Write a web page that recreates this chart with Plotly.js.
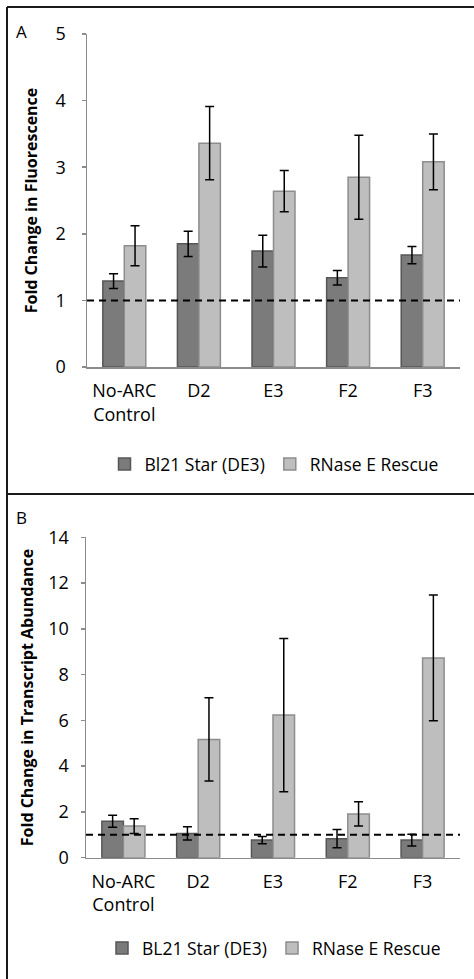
<!DOCTYPE html>
<html>
<head>
<meta charset="utf-8">
<script src="https://cdn.plot.ly/plotly-3.0.1.min.js"></script>
<style>html,body{margin:0;padding:0;background:#fff;}#chart{width:474px;height:979px;}</style>
</head>
<body>
<div id="chart"></div>
<script>
// Categories (tick labels)
const categories = ["No-ARC<br>Control", "D2", "E3", "F2", "F3"];

// Panel A: Fold change in fluorescence
const fluorBL21 = [1.29, 1.85, 1.74, 1.34, 1.68];
const fluorBL21Err = [0.11, 0.19, 0.24, 0.11, 0.13];
const fluorRescue = [1.82, 3.36, 2.64, 2.85, 3.08];
const fluorRescueErr = [0.30, 0.55, 0.31, 0.63, 0.42];

// Panel B: Fold change in transcript abundance
const transBL21 = [1.59, 1.06, 0.77, 0.83, 0.77];
const transBL21Err = [0.26, 0.29, 0.16, 0.40, 0.26];
const transRescue = [1.38, 5.17, 6.23, 1.91, 8.73];
const transRescueErr = [0.32, 1.82, 3.35, 0.53, 2.75];

const seriesNamesA = ["Bl21 Star (DE3)", "RNase E Rescue"];
const seriesNamesB = ["BL21 Star (DE3)", "RNase E Rescue"];

const W = 474, H = 979;
const px = v => v / W;
const py = v => 1 - v / H;

const darkFill = "#7b7b7b", darkEdge = "#575757";
const lightFill = "#bebebe", lightEdge = "#8d8d8d";
const font = "'Open Sans', 'Noto Sans', sans-serif";

function barTrace(y, err, name, fill, edge, xa, ya, legend) {
  return {
    type: "bar", x: categories, y: y, name: name,
    xaxis: xa, yaxis: ya, legend: legend,
    marker: {color: fill, line: {color: edge, width: 1.5}},
    error_y: {type: "data", array: err, visible: true, color: "#000", thickness: 1.5, width: 4.5}
  };
}

const data = [
  barTrace(fluorBL21, fluorBL21Err, seriesNamesA[0], darkFill, darkEdge, "x", "y", "legend"),
  barTrace(fluorRescue, fluorRescueErr, seriesNamesA[1], lightFill, lightEdge, "x", "y", "legend"),
  barTrace(transBL21, transBL21Err, seriesNamesB[0], darkFill, darkEdge, "x2", "y2", "legend2"),
  barTrace(transRescue, transRescueErr, seriesNamesB[1], lightFill, lightEdge, "x2", "y2", "legend2")
];

const axisLine = {showline: true, linecolor: "#8c8c8c", linewidth: 1.5, showgrid: false, zeroline: false};
const tickFont = {family: font, size: 18, color: "#000"};
const titleFont = {family: font, size: 16, color: "#000", weight: 700};

const legendCommon = {
  orientation: "h", xanchor: "center", yanchor: "middle",
  font: {family: font, size: 17.5, color: "#000"},
  bgcolor: "rgba(0,0,0,0)", traceorder: "normal", itemwidth: 30
};

const layout = {
  width: W, height: H,
  margin: {l: 0, r: 0, t: 0, b: 0},
  paper_bgcolor: "#fff", plot_bgcolor: "#fff",
  font: {family: font, color: "#000"},
  barmode: "group", bargap: 0.424, bargroupgap: 0,
  showlegend: true,
  xaxis: Object.assign({}, axisLine, {domain: [px(87), px(460)], anchor: "y", type: "category",
    ticks: "", tickfont: tickFont, ticklabelstandoff: 7, fixedrange: true}),
  yaxis: Object.assign({}, axisLine, {domain: [py(367), py(34)], anchor: "x", range: [0, 5],
    tickvals: [0, 1, 2, 3, 4, 5], ticks: "outside", ticklen: 4, tickcolor: "#8c8c8c", tickwidth: 1.5,
    tickfont: tickFont, ticklabelstandoff: 12,
    title: {text: "Fold Change in Fluorescence", font: titleFont, standoff: 14}}),
  xaxis2: Object.assign({}, axisLine, {domain: [px(86), px(460)], anchor: "y2", type: "category",
    ticks: "", tickfont: tickFont, ticklabelstandoff: 7, fixedrange: true}),
  yaxis2: Object.assign({}, axisLine, {domain: [py(857.7), py(537.3)], anchor: "x2", range: [0, 14],
    tickvals: [0, 2, 4, 6, 8, 10, 12, 14], ticks: "outside", ticklen: 4, tickcolor: "#8c8c8c", tickwidth: 1.5,
    tickfont: tickFont, ticklabelstandoff: 8,
    title: {text: "Fold Change in Transcript Abundance", font: titleFont, standoff: 10}}),
  legend: Object.assign({}, legendCommon, {x: px(274), y: py(464)}),
  legend2: Object.assign({}, legendCommon, {x: px(274), y: py(948)}),
  shapes: [
    {type: "line", xref: "paper", yref: "paper", x0: px(7), x1: px(7), y0: 0, y1: py(7), line: {color: "#1a1a1a", width: 2}},
    {type: "line", xref: "paper", yref: "paper", x0: px(7), x1: 1, y0: py(7), y1: py(7), line: {color: "#1a1a1a", width: 2}},
    {type: "line", xref: "paper", yref: "paper", x0: px(7), x1: 1, y0: py(494), y1: py(494), line: {color: "#1a1a1a", width: 2}},
    {type: "line", xref: "x domain", yref: "y", x0: 0, x1: 1, y0: 1, y1: 1, layer: "above", line: {color: "#000", width: 2, dash: "7px,5px"}},
    {type: "line", xref: "x2 domain", yref: "y2", x0: 0, x1: 1, y0: 1, y1: 1, layer: "above", line: {color: "#000", width: 2, dash: "7px,5px"}}
  ],
  annotations: [
    {text: "A", xref: "paper", yref: "paper", x: px(21), y: py(31), showarrow: false, xanchor: "center", yanchor: "middle", font: {family: font, size: 17, color: "#000"}},
    {text: "B", xref: "paper", yref: "paper", x: px(21), y: py(517), showarrow: false, xanchor: "center", yanchor: "middle", font: {family: font, size: 17, color: "#000"}}
  ]
};

Plotly.newPlot("chart", data, layout, {displayModeBar: false, staticPlot: true});
</script>
</body>
</html>
